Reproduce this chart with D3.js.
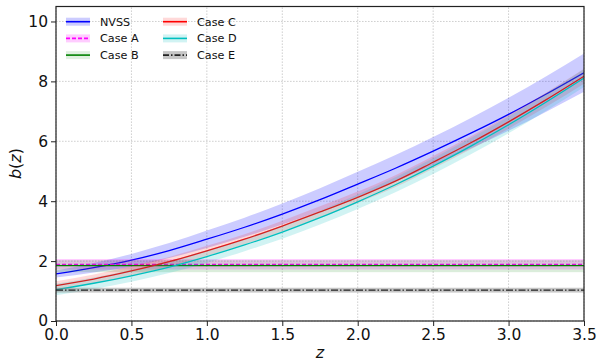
<!DOCTYPE html>
<html>
<head>
<meta charset="utf-8">
<script src="https://cdn.jsdelivr.net/npm/d3@7"></script>
<style>
  html, body { margin: 0; padding: 0; background: #fff; }
  svg { display: block; font-family: "DejaVu Sans", sans-serif; }
</style>
</head>
<body>
<svg id="chart" width="597" height="362"></svg>
<script>
// Redshift sampling for the bias curves
const zGrid = [0, 0.25, 0.5, 0.75, 1.0, 1.25, 1.5, 1.75, 2.0, 2.25, 2.5, 2.75, 3.0, 3.25, 3.5];

// NVSS bias model and its 1-sigma envelope
const nvss    = [1.57, 1.78, 2.03, 2.35, 2.73, 3.13, 3.57, 4.05, 4.57, 5.10, 5.67, 6.27, 6.90, 7.58, 8.29];
const nvssErr = [0.12, 0.16, 0.21, 0.25, 0.29, 0.32, 0.35, 0.38, 0.41, 0.44, 0.47, 0.51, 0.55, 0.59, 0.64];

// Evolving-bias fits
const caseC    = [1.18, 1.40, 1.67, 1.98, 2.34, 2.73, 3.17, 3.64, 4.13, 4.67, 5.30, 5.95, 6.65, 7.39, 8.17];
const caseCErr = [0.15, 0.15, 0.16, 0.16, 0.17, 0.17, 0.18, 0.19, 0.19, 0.20, 0.21, 0.22, 0.23, 0.24, 0.25];
const caseD    = [1.05, 1.26, 1.51, 1.80, 2.15, 2.54, 2.97, 3.45, 3.98, 4.55, 5.17, 5.84, 6.55, 7.31, 8.11];
const caseDErr = [0.19, 0.19, 0.20, 0.20, 0.21, 0.21, 0.22, 0.23, 0.24, 0.25, 0.26, 0.27, 0.28, 0.29, 0.30];

// Constant-bias fits: [value, lower, upper]
const caseA = [1.89, 1.72, 2.07];
const caseB = [1.85, 1.63, 2.03];
const caseE = [1.03, 0.95, 1.11];

// Axis ticks
const xTicks = [0.0, 0.5, 1.0, 1.5, 2.0, 2.5, 3.0, 3.5];
const yTicks = [0, 2, 4, 6, 8, 10];

const legendLabels = ["NVSS", "Case A", "Case B", "Case C", "Case D", "Case E"];

const svg = d3.select("#chart");
const x = d3.scaleLinear().domain([0, 3.5]).range([56, 584]);
const y = d3.scaleLinear().domain([0, 10.5]).range([321, 6.5]);

// clip to plotting area
svg.append("defs").append("clipPath").attr("id", "plotClip")
  .append("rect").attr("x", 56).attr("y", 6.5).attr("width", 528).attr("height", 314.5);

// grid
const grid = svg.append("g");
xTicks.forEach(t => grid.append("line")
  .attr("x1", x(t)).attr("x2", x(t)).attr("y1", y(0)).attr("y2", y(10.5))
  .attr("stroke", "#c4c4c4").attr("stroke-width", 0.8).attr("stroke-dasharray", "1.6,1.4"));
yTicks.forEach(t => grid.append("line")
  .attr("x1", x(0)).attr("x2", x(3.5)).attr("y1", y(t)).attr("y2", y(t))
  .attr("stroke", "#c4c4c4").attr("stroke-width", 0.8).attr("stroke-dasharray", "1.6,1.4"));

const plot = svg.append("g").attr("clip-path", "url(#plotClip)");

const bandArea = (vals, errs) => d3.area()
  .x((d, i) => x(zGrid[i]))
  .y0((d, i) => y(vals[i] - errs[i]))
  .y1((d, i) => y(vals[i] + errs[i]))
  .curve(d3.curveMonotoneX)(zGrid);
const curveLine = vals => d3.line()
  .x((d, i) => x(zGrid[i]))
  .y((d, i) => y(vals[i]))
  .curve(d3.curveMonotoneX)(zGrid);

function constBand(c, color, opacity) {
  plot.append("rect")
    .attr("x", x(0)).attr("width", x(3.5) - x(0))
    .attr("y", y(c[2])).attr("height", y(c[1]) - y(c[2]))
    .attr("fill", color).attr("fill-opacity", opacity);
}
function constLine(c, color, dash) {
  plot.append("line")
    .attr("x1", x(0)).attr("x2", x(3.5)).attr("y1", y(c[0])).attr("y2", y(c[0]))
    .attr("stroke", color).attr("stroke-width", 1.4)
    .attr("stroke-dasharray", dash);
}

// NVSS
plot.append("path").attr("d", bandArea(nvss, nvssErr)).attr("fill", "#0000ff").attr("fill-opacity", 0.2);
plot.append("path").attr("d", curveLine(nvss)).attr("fill", "none").attr("stroke", "#0000ff").attr("stroke-width", 1.3);
// Case A
constBand(caseA, "#ff00ff", 0.2);
constLine(caseA, "#ff00ff", "4,2");
// Case B
constBand(caseB, "#008000", 0.14);
constLine(caseB, "#008000", null);
// Case C
plot.append("path").attr("d", bandArea(caseC, caseCErr)).attr("fill", "#ff0000").attr("fill-opacity", 0.15);
plot.append("path").attr("d", curveLine(caseC)).attr("fill", "none").attr("stroke", "#ff0000").attr("stroke-width", 1.3);
// Case D
plot.append("path").attr("d", bandArea(caseD, caseDErr)).attr("fill", "#00bfbf").attr("fill-opacity", 0.18);
plot.append("path").attr("d", curveLine(caseD)).attr("fill", "none").attr("stroke", "#00bfbf").attr("stroke-width", 1.3);
// Case E
constBand(caseE, "#808080", 0.45);
constLine(caseE, "#222222", "7,2,1.5,2");

// axes
const xAxis = d3.axisBottom(x).tickValues(xTicks).tickFormat(d3.format(".1f")).tickSizeOuter(0).tickSize(5).tickPadding(3);
const yAxis = d3.axisLeft(y).tickValues(yTicks).tickFormat(d3.format("d")).tickSizeOuter(0).tickSize(5).tickPadding(3);
const gx = svg.append("g").attr("transform", "translate(0,321)").call(xAxis);
const gy = svg.append("g").attr("transform", "translate(56,0)").call(yAxis);
[gx, gy].forEach(g => {
  g.select(".domain").remove();
  g.selectAll(".tick line").attr("stroke", "#222").attr("stroke-width", 1);
  g.selectAll(".tick text").attr("fill", "#111").attr("font-size", "15.5px")
    .attr("font-family", "DejaVu Sans, sans-serif");
});

// frame
svg.append("rect").attr("x", 56).attr("y", 6.5).attr("width", 528).attr("height", 314.5)
  .attr("fill", "none").attr("stroke", "#222").attr("stroke-width", 1.2);

// axis titles
svg.append("text").attr("x", 320).attr("y", 358).attr("text-anchor", "middle")
  .attr("font-size", "16px").attr("font-style", "italic").attr("fill", "#111").text("z");
svg.append("text").attr("transform", "translate(21,163.5) rotate(-90)").attr("text-anchor", "middle")
  .attr("font-size", "16px").attr("fill", "#111")
  .html('<tspan font-style="italic">b</tspan>(<tspan font-style="italic">z</tspan>)');

// legend
const legendItems = [
  { label: legendLabels[0], color: "#0000ff", band: "#0000ff", bandOp: 0.2, dash: null, col: 0, row: 0 },
  { label: legendLabels[1], color: "#ff00ff", band: "#ff00ff", bandOp: 0.2, dash: "4,2", col: 0, row: 1 },
  { label: legendLabels[2], color: "#008000", band: "#008000", bandOp: 0.12, dash: null, col: 0, row: 2 },
  { label: legendLabels[3], color: "#ff0000", band: "#ff0000", bandOp: 0.15, dash: null, col: 1, row: 0 },
  { label: legendLabels[4], color: "#00bfbf", band: "#00bfbf", bandOp: 0.18, dash: null, col: 1, row: 1 },
  { label: legendLabels[5], color: "#222222", band: "#808080", bandOp: 0.45, dash: "6,2,1.5,2", col: 1, row: 2 }
];
const lg = svg.append("g");
legendItems.forEach(it => {
  const hx = it.col === 0 ? 66 : 163;
  const cy = 21.7 + it.row * 16.7;
  lg.append("rect").attr("x", hx).attr("y", cy - 4).attr("width", 24).attr("height", 8)
    .attr("fill", it.band).attr("fill-opacity", it.bandOp);
  lg.append("line").attr("x1", hx).attr("x2", hx + 24).attr("y1", cy).attr("y2", cy)
    .attr("stroke", it.color).attr("stroke-width", 1.6).attr("stroke-dasharray", it.dash);
  lg.append("text").attr("x", hx + 34).attr("y", cy + 4).attr("font-size", "11.2px")
    .attr("fill", "#111").text(it.label);
});
</script>
</body>
</html>
